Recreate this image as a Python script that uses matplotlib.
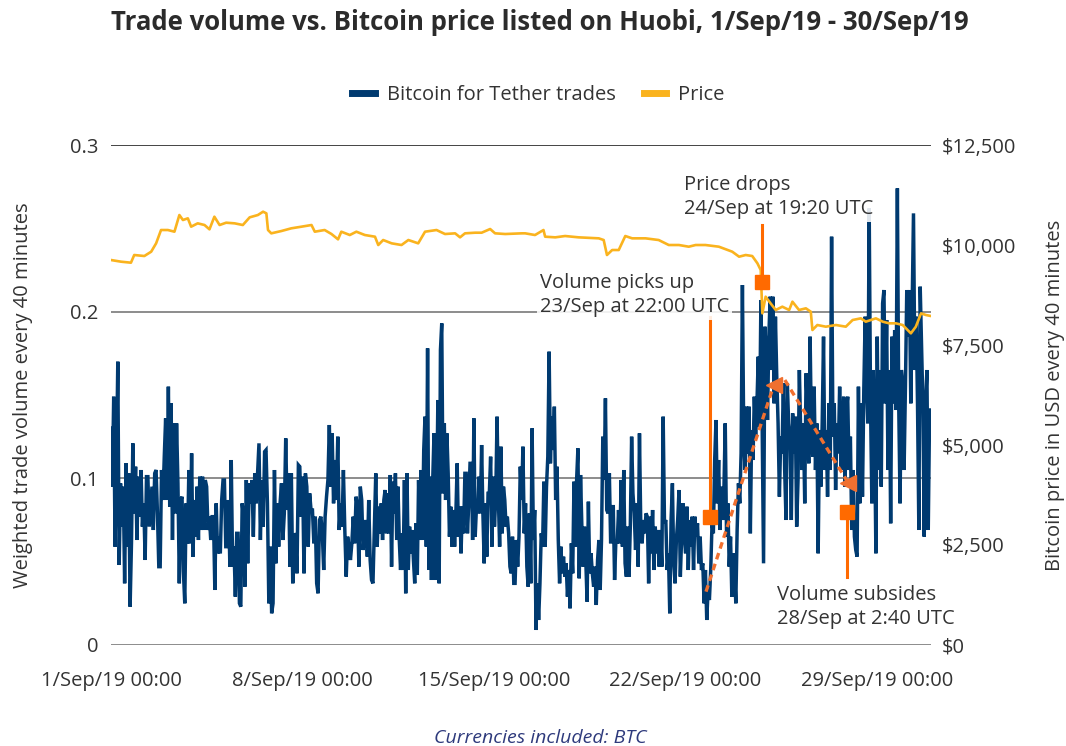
import matplotlib
matplotlib.use('Agg')
import matplotlib.pyplot as plt
import numpy as np
import pandas as pd
from matplotlib.lines import Line2D

plt.rcParams['font.family'] = ['Open Sans', 'DejaVu Sans']

# weighted trade volume every 40 min in six stretches
vol_bounds = ['2019-09-01 00:00', '2019-09-05 21:30', '2019-09-10 20:00', '2019-09-15 18:30',
              '2019-09-20 16:50', '2019-09-25 19:40', '2019-09-30 23:20']
vol_1 = [0.130, 0.095, 0.149, 0.059, 0.107, 0.170, 0.048, 0.097, 0.071, 0.095, 0.037, 0.109, 0.059, 0.103,
         0.023, 0.061, 0.121, 0.079, 0.107, 0.063, 0.101, 0.077, 0.105, 0.071, 0.085, 0.051, 0.101, 0.101,
         0.071, 0.083, 0.095, 0.069, 0.103, 0.105, 0.079, 0.047, 0.047, 0.105, 0.087, 0.113, 0.136, 0.087,
         0.155, 0.083, 0.145, 0.063, 0.133, 0.079, 0.133, 0.097, 0.037, 0.087, 0.089, 0.044, 0.025, 0.085,
         0.061, 0.105, 0.061, 0.115, 0.053, 0.087, 0.065, 0.095, 0.063, 0.101, 0.069, 0.101, 0.069, 0.099,
         0.095, 0.069, 0.077, 0.063, 0.077, 0.077, 0.033, 0.085, 0.055, 0.065, 0.055, 0.087, 0.099, 0.099,
         0.059, 0.059, 0.087, 0.047, 0.111, 0.047, 0.059, 0.029, 0.067, 0.067, 0.025, 0.023, 0.085, 0.077]
vol_2 = [0.035, 0.099, 0.049, 0.097, 0.085, 0.099, 0.065, 0.103, 0.085, 0.103, 0.121, 0.063, 0.099, 0.071,
         0.116, 0.117, 0.085, 0.025, 0.059, 0.019, 0.025, 0.105, 0.049, 0.085, 0.059, 0.085, 0.097, 0.063,
         0.079, 0.124, 0.081, 0.103, 0.047, 0.103, 0.037, 0.067, 0.065, 0.043, 0.108, 0.107, 0.077, 0.101,
         0.043, 0.103, 0.095, 0.059, 0.091, 0.081, 0.081, 0.061, 0.077, 0.037, 0.031, 0.075, 0.077, 0.067,
         0.045, 0.077, 0.089, 0.099, 0.132, 0.095, 0.127, 0.085, 0.111, 0.087, 0.125, 0.069, 0.085, 0.071,
         0.105, 0.069, 0.041, 0.065, 0.059, 0.051, 0.061, 0.077, 0.061, 0.089, 0.083, 0.047, 0.095, 0.087,
         0.057, 0.067, 0.075, 0.053, 0.087, 0.051, 0.039, 0.037, 0.069, 0.103, 0.059, 0.083]
vol_3 = [0.067, 0.085, 0.063, 0.087, 0.093, 0.067, 0.091, 0.067, 0.102, 0.047, 0.098, 0.079, 0.103, 0.063,
         0.095, 0.063, 0.045, 0.067, 0.045, 0.099, 0.031, 0.103, 0.045, 0.071, 0.055, 0.069, 0.051, 0.037,
         0.073, 0.042, 0.099, 0.063, 0.105, 0.063, 0.117, 0.137, 0.059, 0.178, 0.045, 0.101, 0.039, 0.099,
         0.127, 0.039, 0.083, 0.147, 0.037, 0.177, 0.193, 0.091, 0.133, 0.087, 0.127, 0.103, 0.065, 0.083,
         0.059, 0.081, 0.059, 0.079, 0.109, 0.065, 0.083, 0.055, 0.083, 0.067, 0.103, 0.103, 0.067, 0.085,
         0.109, 0.109, 0.063, 0.136, 0.065, 0.083, 0.079, 0.101, 0.079, 0.120, 0.079, 0.049, 0.085, 0.053,
         0.091, 0.091, 0.113, 0.059, 0.101, 0.071, 0.089, 0.137, 0.089, 0.059, 0.119, 0.067, 0.095, 0.087,
         0.071, 0.077, 0.067, 0.047, 0.043, 0.065, 0.037]
vol_4 = [0.037, 0.063, 0.047, 0.065, 0.107, 0.087, 0.119, 0.067, 0.085, 0.047, 0.035, 0.079, 0.037, 0.130,
         0.063, 0.081, 0.009, 0.037, 0.015, 0.037, 0.067, 0.059, 0.098, 0.059, 0.095, 0.113, 0.176, 0.109,
         0.137, 0.117, 0.143, 0.087, 0.107, 0.063, 0.037, 0.059, 0.043, 0.053, 0.041, 0.049, 0.029, 0.045,
         0.022, 0.061, 0.043, 0.098, 0.059, 0.099, 0.118, 0.040, 0.102, 0.071, 0.047, 0.071, 0.051, 0.026,
         0.086, 0.043, 0.055, 0.043, 0.035, 0.047, 0.024, 0.051, 0.063, 0.033, 0.063, 0.125, 0.099, 0.148,
         0.081, 0.079, 0.103, 0.061, 0.083, 0.083, 0.039, 0.063, 0.061, 0.081, 0.061, 0.099, 0.059, 0.105,
         0.049, 0.041, 0.071, 0.041, 0.071, 0.125, 0.091, 0.079, 0.057, 0.085, 0.047, 0.127, 0.071, 0.061,
         0.075, 0.067, 0.079, 0.077, 0.037]
vol_5 = [0.077, 0.055, 0.081, 0.045, 0.071, 0.055, 0.069, 0.047, 0.069, 0.047, 0.137, 0.073, 0.075, 0.045,
         0.055, 0.019, 0.075, 0.097, 0.049, 0.037, 0.063, 0.075, 0.093, 0.041, 0.065, 0.085, 0.065, 0.055,
         0.083, 0.045, 0.075, 0.059, 0.077, 0.045, 0.077, 0.065, 0.073, 0.049, 0.065, 0.045, 0.049, 0.025,
         0.045, 0.015, 0.033, 0.027, 0.045, 0.073, 0.067, 0.111, 0.135, 0.085, 0.111, 0.069, 0.095, 0.075,
         0.093, 0.133, 0.065, 0.085, 0.047, 0.065, 0.029, 0.055, 0.045, 0.025, 0.069, 0.097, 0.085, 0.115,
         0.216, 0.125, 0.105, 0.143, 0.115, 0.143, 0.067, 0.129, 0.111, 0.149, 0.125, 0.145, 0.173, 0.131,
         0.207, 0.125, 0.049, 0.191, 0.175, 0.135, 0.185, 0.209, 0.165, 0.209, 0.145, 0.197, 0.161, 0.133,
         0.089, 0.125, 0.115, 0.157, 0.105, 0.075, 0.157, 0.133]
vol_6 = [0.125, 0.075, 0.139, 0.115, 0.137, 0.071, 0.099, 0.165, 0.127, 0.105, 0.133, 0.085, 0.163, 0.141,
         0.109, 0.185, 0.125, 0.113, 0.155, 0.105, 0.133, 0.055, 0.129, 0.095, 0.133, 0.185, 0.105, 0.129,
         0.089, 0.145, 0.105, 0.245, 0.125, 0.145, 0.093, 0.133, 0.115, 0.155, 0.105, 0.133, 0.149, 0.095,
         0.141, 0.149, 0.105, 0.125, 0.069, 0.105, 0.065, 0.057, 0.053, 0.155, 0.085, 0.145, 0.089, 0.153,
         0.197, 0.157, 0.133, 0.262, 0.145, 0.085, 0.165, 0.129, 0.055, 0.185, 0.105, 0.165, 0.095, 0.205,
         0.213, 0.145, 0.195, 0.105, 0.165, 0.073, 0.185, 0.145, 0.189, 0.141, 0.274, 0.145, 0.085, 0.165,
         0.157, 0.105, 0.155, 0.213, 0.185, 0.213, 0.145, 0.201, 0.259, 0.165, 0.197, 0.145, 0.069, 0.215,
         0.181, 0.145, 0.065, 0.145, 0.165, 0.069, 0.141]

# bitcoin price (USD), days after 1 Sep 00:00
price_day = [0, 0.37, 0.73, 0.85, 1.22, 1.47, 1.65, 1.83, 2.08, 2.32,
             2.5, 2.63, 2.81, 2.93, 3.17, 3.42, 3.6, 3.78, 3.97, 4.21,
             4.52, 4.82, 5.07, 5.37, 5.56, 5.68, 5.74, 5.86, 6.23, 6.59,
             6.96, 7.33, 7.45, 7.81, 8.06, 8.3, 8.42, 8.73, 8.97, 9.28,
             9.65, 9.77, 9.95, 10.26, 10.62, 10.87, 11.23, 11.48, 11.9, 12.21,
             12.58, 12.76, 12.94, 13.31, 13.55, 13.86, 14.04, 14.41, 15.02, 15.14,
             15.5, 15.81, 15.87, 16.24, 16.6, 17.09, 17.83, 18.01, 18.13, 18.32,
             18.56, 18.8, 19.05, 19.54, 20.02, 20.39, 20.76, 21.12, 21.37, 21.73,
             22.22, 22.71, 22.96, 23.2, 23.44, 23.63, 23.75, 23.81, 23.93, 24.11,
             24.3, 24.54, 24.79, 24.91, 25.15, 25.4, 25.58, 25.64, 25.82, 26.13,
             26.5, 26.86, 27.11, 27.41, 27.59, 27.96, 28.21, 28.45, 28.69, 28.94,
             29.24, 29.42, 29.61, 29.79, 29.97]
price_usd = [9625, 9583, 9558, 9750, 9725, 9833, 10042, 10375, 10375, 10333,
             10750, 10625, 10667, 10458, 10542, 10500, 10392, 10708, 10500, 10558,
             10542, 10500, 10692, 10750, 10833, 10792, 10375, 10292, 10350, 10417,
             10458, 10500, 10333, 10375, 10275, 10142, 10333, 10250, 10333, 10250,
             10208, 10000, 10125, 10042, 10000, 10125, 10042, 10333, 10375, 10275,
             10292, 10192, 10292, 10308, 10308, 10400, 10292, 10275, 10292, 10292,
             10250, 10375, 10208, 10192, 10225, 10192, 10167, 10125, 9750, 9875,
             9875, 10225, 10167, 10167, 10125, 10000, 10000, 9958, 10000, 10000,
             9958, 9833, 9708, 9750, 9725, 9542, 9375, 8292, 8708, 8542,
             8375, 8458, 8375, 8583, 8375, 8417, 8333, 7875, 8000, 7958,
             8000, 7958, 8125, 8167, 8083, 8167, 8083, 8042, 8042, 8000,
             7792, 7958, 8292, 8250, 8225]

xtick_dates = ['2019-09-01', '2019-09-08', '2019-09-15', '2019-09-22', '2019-09-29']
xtick_labels = ['1/Sep/19 00:00', '8/Sep/19 00:00', '15/Sep/19 00:00', '22/Sep/19 00:00', '29/Sep/19 00:00']
vol_ticks = [0, 0.1, 0.2, 0.3]
vol_tick_labels = ['0', '0.1', '0.2', '0.3']
price_ticks = [0, 2500, 5000, 7500, 10000, 12500]

# annotated events (time, volume-axis value of marker, end of stem)
ev_pickup = ('2019-09-22 21:20', 0.077, 0.197)
ev_drop = ('2019-09-24 19:00', 0.218, 0.252)
ev_subside = ('2019-09-27 21:40', 0.080, 0.041)
trend_up = (['2019-09-22 18:00', '2019-09-25 05:30'], [0.032, 0.156])
trend_down = (['2019-09-25 15:10', '2019-09-27 23:00'], [0.159, 0.097])

BLUE = '#003a70'
GOLD = '#fab31e'
ORANGE = '#ff6a00'
DASH = '#f07030'
TXT = '#333333'
FS = 14.5

bounds = pd.to_datetime(vol_bounds)
vol_segments = [vol_1, vol_2, vol_3, vol_4, vol_5, vol_6]
vol_time = []
for seg, t0, t1 in zip(vol_segments, bounds[:-1], bounds[1:]):
    step = (t1 - t0) / len(seg)
    vol_time += [t0 + step * i for i in range(len(seg))]
vol = np.concatenate(vol_segments)
price_time = pd.Timestamp('2019-09-01') + pd.to_timedelta(price_day, unit='D')

fig = plt.figure(figsize=(10.66, 7.46), dpi=100)
ax = fig.add_axes([0.1041, 0.1354, 0.7692, 0.6702])
ax2 = ax.twinx()

for v in vol_ticks:
    ax.axhline(v, color='#444444' if v == 0.3 else '#8c8c8c', lw=1.4, zorder=0)
ax.plot(vol_time, vol, color=BLUE, lw=2.5, solid_joinstyle='miter', zorder=2)
ax2.plot(price_time, price_usd, color=GOLD, lw=1.9, zorder=3)

ax.set_ylim(0, 0.3)
ax2.set_ylim(0, 12500)
ax.set_xlim(pd.Timestamp('2019-09-01 00:00'), pd.Timestamp('2019-09-30 23:20'))

ax.set_xticks(pd.to_datetime(xtick_dates))
ax.set_xticklabels(xtick_labels)
ax.set_yticks(vol_ticks)
ax.set_yticklabels(vol_tick_labels)
ax2.set_yticks(price_ticks)
ax2.set_yticklabels(['${:,.0f}'.format(p) for p in price_ticks])
ax.tick_params(axis='x', length=0, pad=19, labelsize=FS, labelcolor=TXT)
ax.tick_params(axis='y', length=0, pad=9, labelsize=FS, labelcolor=TXT)
ax2.tick_params(axis='y', length=0, pad=8, labelsize=FS, labelcolor=TXT)
for a in (ax, ax2):
    for s in a.spines.values():
        s.set_visible(False)

# annotations, drawn on the top axes in volume units
for t, y_mark, y_end in (ev_pickup, ev_drop, ev_subside):
    t = pd.Timestamp(t)
    ax2.plot([t, t], [y_mark, y_end], color=ORANGE, lw=2.2, transform=ax.transData, zorder=5)
    ax2.plot([t], [y_mark], 's', color=ORANGE, ms=10, transform=ax.transData, zorder=6)
for times, ys in (trend_up, trend_down):
    tt = pd.to_datetime(times)
    ax2.plot(tt, ys, color=DASH, lw=2.4, dashes=(2, 1.4), transform=ax.transData, zorder=5)
    ax2.plot(tt[-1:], ys[-1:], '<', color=DASH, ms=12, transform=ax.transData, zorder=6)

box = dict(facecolor='white', edgecolor='none', alpha=0.88, pad=2)
ax2.text(0.523, 0.656, 'Volume picks up\n23/Sep at 22:00 UTC', transform=ax.transAxes,
         ha='left', va='bottom', fontsize=FS, color=TXT, linespacing=1.25, bbox=box, zorder=7)
ax2.text(0.699, 0.852, 'Price drops\n24/Sep at 19:20 UTC', transform=ax.transAxes,
         ha='left', va='bottom', fontsize=FS, color=TXT, linespacing=1.25, bbox=box, zorder=7)
ax2.text(0.812, 0.119, 'Volume subsides\n28/Sep at 2:40 UTC', transform=ax.transAxes,
         ha='left', va='top', fontsize=FS, color=TXT, linespacing=1.25, zorder=7, clip_on=False)

fig.text(0.506, 0.970, 'Trade volume vs. Bitcoin price listed on Huobi, 1/Sep/19 - 30/Sep/19',
         ha='center', va='center', fontsize=18.5, fontweight='bold', color='#2b2b2b')
fig.text(0.0215, 0.4705, 'Weighted trade volume every 40 minutes', rotation=90,
         ha='center', va='center', fontsize=FS, color=TXT)
fig.text(0.9897, 0.4705, 'Bitcoin price in USD every 40 minutes', rotation=90,
         ha='center', va='center', fontsize=FS, color=TXT)
fig.text(0.507, 0.0107, 'Currencies included: BTC', ha='center', va='center',
         fontsize=14, style='italic', color='#2e3a7c')

handles = [Line2D([], [], color=BLUE, lw=5), Line2D([], [], color=GOLD, lw=5)]
fig.legend(handles, ['Bitcoin for Tether trades', 'Price'], loc='center',
           bbox_to_anchor=(0.505, 0.873), ncol=2, frameon=False, fontsize=FS,
           handlelength=1.1, handletextpad=0.6, columnspacing=1.4, labelcolor=TXT)

fig.savefig('out.png', dpi=100)
